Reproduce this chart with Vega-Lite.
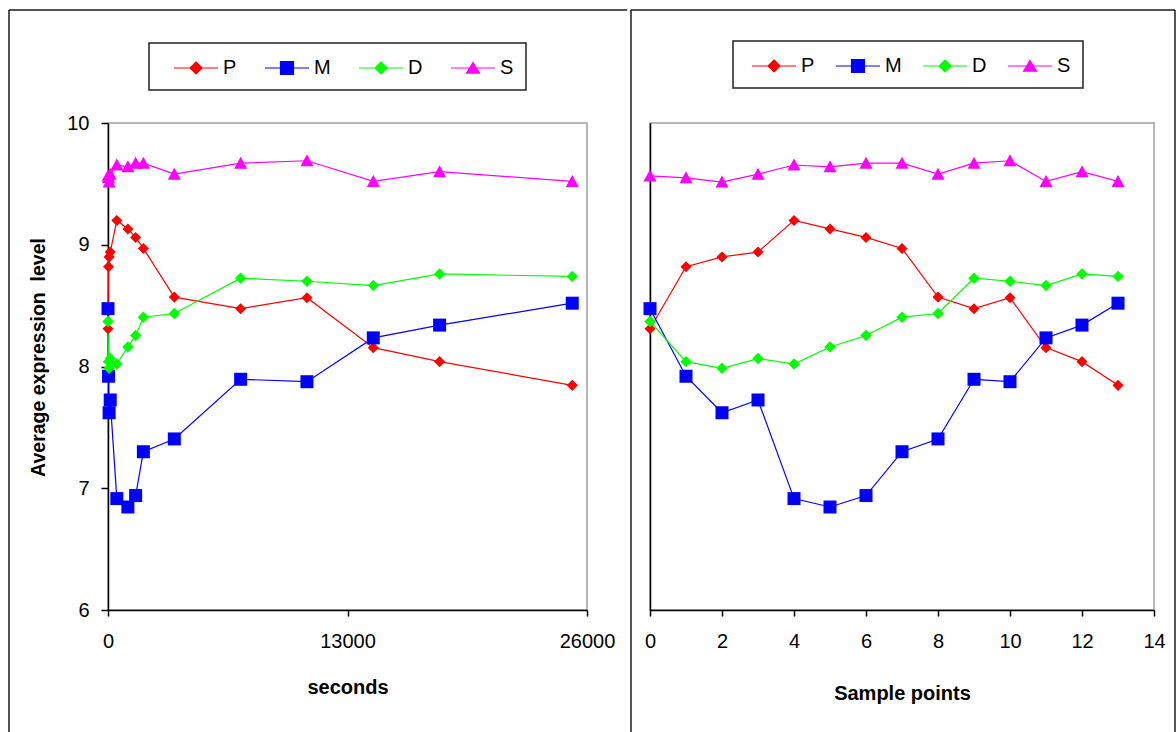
{
  "$schema": "https://vega.github.io/schema/vega-lite/v6.json",
  "background": "white",
  "padding": {"left": 7, "top": 8, "right": 0, "bottom": 0},
  "spacing": 0,
  "config": {
    "font": "Liberation Sans",
    "view": {"stroke": "#a0a0a0", "strokeWidth": 1.5},
    "axis": {
      "grid": false, "domainColor": "#000", "tickColor": "#000", "domainWidth": 1.5, "tickWidth": 1.5,
      "labelColor": "#000", "titleColor": "#000", "labelFontSize": 20, "titleFontSize": 20,
      "titleFontWeight": "bold", "labelFont": "Liberation Sans", "titleFont": "Liberation Sans", "minExtent": 0
    },
    "legend": {"strokeWidth": 1.5}
  },
  "datasets": {
    "expr": [
      {"s": "P", "i": 0, "sec": 0, "v": 8.31},
      {"s": "P", "i": 1, "sec": 30, "v": 8.82},
      {"s": "P", "i": 2, "sec": 60, "v": 8.90},
      {"s": "P", "i": 3, "sec": 120, "v": 8.94},
      {"s": "P", "i": 4, "sec": 480, "v": 9.20},
      {"s": "P", "i": 5, "sec": 1080, "v": 9.13},
      {"s": "P", "i": 6, "sec": 1500, "v": 9.06},
      {"s": "P", "i": 7, "sec": 1920, "v": 8.97},
      {"s": "P", "i": 8, "sec": 3600, "v": 8.57},
      {"s": "P", "i": 9, "sec": 7200, "v": 8.475},
      {"s": "P", "i": 10, "sec": 10800, "v": 8.565},
      {"s": "P", "i": 11, "sec": 14400, "v": 8.155},
      {"s": "P", "i": 12, "sec": 18000, "v": 8.04},
      {"s": "P", "i": 13, "sec": 25200, "v": 7.845},
      {"s": "M", "i": 0, "sec": 0, "v": 8.475},
      {"s": "M", "i": 1, "sec": 30, "v": 7.92},
      {"s": "M", "i": 2, "sec": 60, "v": 7.62},
      {"s": "M", "i": 3, "sec": 120, "v": 7.725},
      {"s": "M", "i": 4, "sec": 480, "v": 6.915},
      {"s": "M", "i": 5, "sec": 1080, "v": 6.846},
      {"s": "M", "i": 6, "sec": 1500, "v": 6.94},
      {"s": "M", "i": 7, "sec": 1920, "v": 7.30},
      {"s": "M", "i": 8, "sec": 3600, "v": 7.405},
      {"s": "M", "i": 9, "sec": 7200, "v": 7.895},
      {"s": "M", "i": 10, "sec": 10800, "v": 7.875},
      {"s": "M", "i": 11, "sec": 14400, "v": 8.235},
      {"s": "M", "i": 12, "sec": 18000, "v": 8.34},
      {"s": "M", "i": 13, "sec": 25200, "v": 8.52},
      {"s": "D", "i": 0, "sec": 0, "v": 8.37},
      {"s": "D", "i": 1, "sec": 30, "v": 8.04},
      {"s": "D", "i": 2, "sec": 60, "v": 7.985},
      {"s": "D", "i": 3, "sec": 120, "v": 8.065},
      {"s": "D", "i": 4, "sec": 480, "v": 8.02},
      {"s": "D", "i": 5, "sec": 1080, "v": 8.16},
      {"s": "D", "i": 6, "sec": 1500, "v": 8.255},
      {"s": "D", "i": 7, "sec": 1920, "v": 8.405},
      {"s": "D", "i": 8, "sec": 3600, "v": 8.435},
      {"s": "D", "i": 9, "sec": 7200, "v": 8.725},
      {"s": "D", "i": 10, "sec": 10800, "v": 8.70},
      {"s": "D", "i": 11, "sec": 14400, "v": 8.665},
      {"s": "D", "i": 12, "sec": 18000, "v": 8.76},
      {"s": "D", "i": 13, "sec": 25200, "v": 8.74},
      {"s": "S", "i": 0, "sec": 0, "v": 9.565},
      {"s": "S", "i": 1, "sec": 30, "v": 9.55},
      {"s": "S", "i": 2, "sec": 60, "v": 9.515},
      {"s": "S", "i": 3, "sec": 120, "v": 9.58},
      {"s": "S", "i": 4, "sec": 480, "v": 9.655},
      {"s": "S", "i": 5, "sec": 1080, "v": 9.64},
      {"s": "S", "i": 6, "sec": 1500, "v": 9.67},
      {"s": "S", "i": 7, "sec": 1920, "v": 9.67},
      {"s": "S", "i": 8, "sec": 3600, "v": 9.58},
      {"s": "S", "i": 9, "sec": 7200, "v": 9.67},
      {"s": "S", "i": 10, "sec": 10800, "v": 9.69},
      {"s": "S", "i": 11, "sec": 14400, "v": 9.52},
      {"s": "S", "i": 12, "sec": 18000, "v": 9.60},
      {"s": "S", "i": 13, "sec": 25200, "v": 9.52}
    ]
  },
  "resolve": {"legend": {"color": "independent"}},
  "hconcat": [
    {
      "width": 479,
      "height": 487,
      "data": {"name": "expr"},
      "layer": [
        {
          "data": {"values": [{}]},
          "mark": {"type": "rule", "color": "#1a1a1a", "strokeWidth": 1.5},
          "encoding": {
            "x": {"datum": -5374, "type": "quantitative", "scale": {"domain": [0, 26000]}},
            "y": {"datum": 10.928, "type": "quantitative", "scale": {"domain": [6, 10]}},
            "y2": {"datum": 4.9}
          }
        },
        {
          "data": {"values": [{}]},
          "mark": {"type": "rule", "color": "#1a1a1a", "strokeWidth": 1.5},
          "encoding": {
            "x": {"datum": -5374, "type": "quantitative", "scale": {"domain": [0, 26000]}},
            "x2": {"datum": 28185},
            "y": {"datum": 10.928, "type": "quantitative", "scale": {"domain": [6, 10]}}
          }
        },
        {
          "mark": {"type": "line", "strokeWidth": 1.2},
          "encoding": {
            "x": {"field": "sec", "type": "quantitative", "scale": {"domain": [0, 26000]},
                  "axis": {"values": [0, 13000, 26000], "title": "seconds", "tickSize": 6, "labelPadding": 15, "titlePadding": 26, "format": "d", "labelFlush": false}},
            "y": {"field": "v", "type": "quantitative", "scale": {"domain": [6, 10]},
                  "axis": {"values": [6, 7, 8, 9, 10], "format": "d", "title": "Average expression\u00a0 level", "tickSize": 7, "labelPadding": 12, "titlePadding": 18, "titleFontSize": 19.5, "titleY": 234}},
            "stroke": {"field": "s", "type": "nominal", "legend": null, "scale": {"domain": ["P", "M", "D", "S"], "range": ["#FF0000", "#0000FF", "#00FF00", "#FF00FF"]}}
          }
        },
        {
          "mark": {"type": "point", "filled": true, "size": 169, "opacity": 1},
          "encoding": {
            "x": {"field": "sec", "type": "quantitative", "scale": {"domain": [0, 26000]}},
            "y": {"field": "v", "type": "quantitative", "scale": {"domain": [6, 10]}},
            "shape": {"field": "s", "type": "nominal", "legend": null,
                      "scale": {"domain": ["P", "M", "D", "S"], "range": ["M0,-0.85L0.85,0L0,0.85L-0.85,0Z", "M-1,-1L1,-1L1,1L-1,1Z", "M0,-0.88L0.88,0L0,0.88L-0.88,0Z", "M0,-1L1,0.85L-1,0.85Z"]}},
            "color": {"field": "s", "type": "nominal", "scale": {"domain": ["P", "M", "D", "S"], "range": ["#FF0000", "#0000FF", "#00FF00", "#FF00FF"]},
              "legend": {
                "orient": "none", "legendX": 41, "legendY": -80, "direction": "horizontal", "columns": 4, "title": null,
                "padding": 12, "strokeColor": "#222", "columnPadding": 13, "labelOffset": 4, "symbolOffset": 32, "symbolSize": 576,
                "labelFontSize": 20, "labelColor": "#000", "labelFont": "Liberation Sans", "symbolStrokeWidth": 1.2, "symbolOpacity": 1,
                "symbolType": {"expr": "datum.value === 'P' ? 'M-3.667,0M-2.667,0L1,0M-0.833,-0.5L-0.333,0L-0.833,0.5L-1.333,0Z' : datum.value === 'M' ? 'M-3.667,0M-2.667,0L1,0M-1.373,-0.54L-0.293,-0.54L-0.293,0.54L-1.373,0.54Z' : datum.value === 'D' ? 'M-3.667,0M-2.667,0L1,0M-0.833,-0.5L-0.333,0L-0.833,0.5L-1.333,0Z' : 'M-3.667,0M-2.667,0L1,0M-0.833,-0.46L-0.293,0.42L-1.373,0.42Z'"},
                "symbolStrokeColor": {"expr": "datum.value === 'P' ? '#FF0000' : datum.value === 'M' ? '#0000FF' : datum.value === 'D' ? '#00FF00' : '#FF00FF'"}
              }
            }
          }
        }
      ]
    },
    {
      "width": 504,
      "height": 487,
      "data": {"name": "expr"},
      "layer": [
        {
          "data": {"values": [{}]},
          "mark": {"type": "rule", "color": "#1a1a1a", "strokeWidth": 1.5},
          "encoding": {
            "x": {"datum": -0.528, "type": "quantitative", "scale": {"domain": [0, 14]}},
            "y": {"datum": 10.928, "type": "quantitative", "scale": {"domain": [6, 10]}},
            "y2": {"datum": 4.9}
          }
        },
        {
          "data": {"values": [{}]},
          "mark": {"type": "rule", "color": "#1a1a1a", "strokeWidth": 1.5},
          "encoding": {
            "x": {"datum": -0.528, "type": "quantitative", "scale": {"domain": [0, 14]}},
            "x2": {"datum": 14.583},
            "y": {"datum": 10.928, "type": "quantitative", "scale": {"domain": [6, 10]}}
          }
        },
        {
          "data": {"values": [{}]},
          "mark": {"type": "rule", "color": "#1a1a1a", "strokeWidth": 1.5},
          "encoding": {
            "x": {"datum": 14.583, "type": "quantitative", "scale": {"domain": [0, 14]}},
            "y": {"datum": 10.928, "type": "quantitative", "scale": {"domain": [6, 10]}},
            "y2": {"datum": 4.9}
          }
        },
        {
          "mark": {"type": "line", "strokeWidth": 1.2},
          "encoding": {
            "x": {"field": "i", "type": "quantitative", "scale": {"domain": [0, 14]},
                  "axis": {"values": [0, 2, 4, 6, 8, 10, 12, 14], "title": "Sample points", "tickSize": 6, "labelPadding": 15, "titlePadding": 32, "labelFlush": false}},
            "y": {"field": "v", "type": "quantitative", "scale": {"domain": [6, 10]},
                  "axis": {"title": null, "labels": false, "ticks": false, "minExtent": 0, "maxExtent": 0}},
            "stroke": {"field": "s", "type": "nominal", "legend": null, "scale": {"domain": ["P", "M", "D", "S"], "range": ["#FF0000", "#0000FF", "#00FF00", "#FF00FF"]}}
          }
        },
        {
          "mark": {"type": "point", "filled": true, "size": 169, "opacity": 1},
          "encoding": {
            "x": {"field": "i", "type": "quantitative", "scale": {"domain": [0, 14]}},
            "y": {"field": "v", "type": "quantitative", "scale": {"domain": [6, 10]}},
            "shape": {"field": "s", "type": "nominal", "legend": null,
                      "scale": {"domain": ["P", "M", "D", "S"], "range": ["M0,-0.85L0.85,0L0,0.85L-0.85,0Z", "M-1,-1L1,-1L1,1L-1,1Z", "M0,-0.88L0.88,0L0,0.88L-0.88,0Z", "M0,-1L1,0.85L-1,0.85Z"]}},
            "color": {"field": "s", "type": "nominal", "scale": {"domain": ["P", "M", "D", "S"], "range": ["#FF0000", "#0000FF", "#00FF00", "#FF00FF"]},
              "legend": {
                "orient": "none", "legendX": 83, "legendY": -82, "direction": "horizontal", "columns": 4, "title": null,
                "padding": 12, "strokeColor": "#222", "columnPadding": 12, "labelOffset": 4, "symbolOffset": 26, "symbolSize": 576,
                "labelFontSize": 20, "labelColor": "#000", "labelFont": "Liberation Sans", "symbolStrokeWidth": 1.2, "symbolOpacity": 1,
                "symbolType": {"expr": "datum.value === 'P' ? 'M-3.167,0M-2.667,0L1,0M-0.833,-0.5L-0.333,0L-0.833,0.5L-1.333,0Z' : datum.value === 'M' ? 'M-3.167,0M-2.667,0L1,0M-1.373,-0.54L-0.293,-0.54L-0.293,0.54L-1.373,0.54Z' : datum.value === 'D' ? 'M-3.167,0M-2.667,0L1,0M-0.833,-0.5L-0.333,0L-0.833,0.5L-1.333,0Z' : 'M-3.167,0M-2.667,0L1,0M-0.833,-0.46L-0.293,0.42L-1.373,0.42Z'"},
                "symbolStrokeColor": {"expr": "datum.value === 'P' ? '#FF0000' : datum.value === 'M' ? '#0000FF' : datum.value === 'D' ? '#00FF00' : '#FF00FF'"}
              }
            }
          }
        }
      ]
    }
  ]
}
